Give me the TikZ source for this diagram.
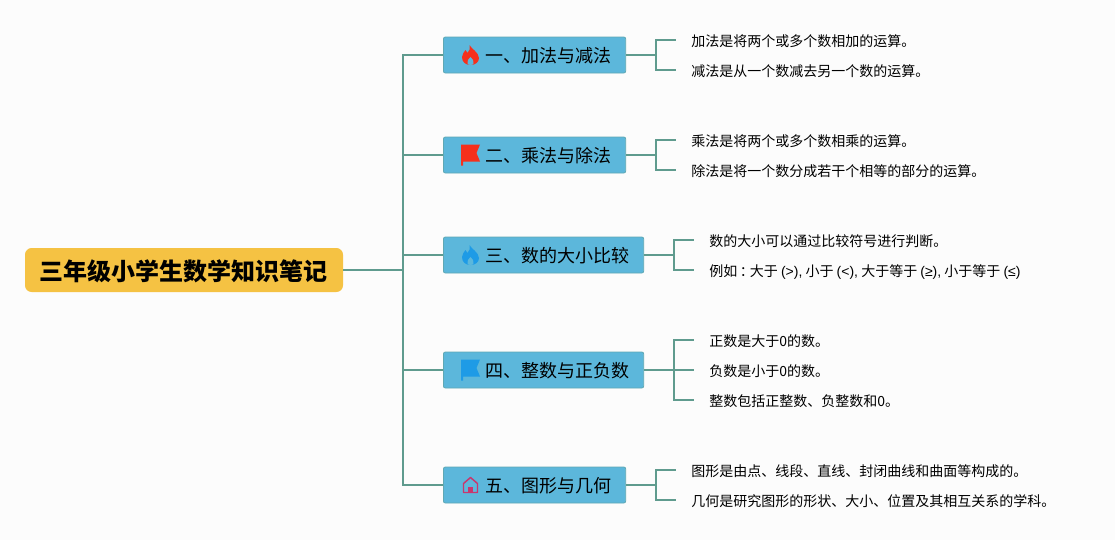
\documentclass[tikz,border=0pt]{standalone}
\usepackage{fontspec}
\setmainfont{Noto Sans CJK SC}
\newfontfamily\symfont{Liberation Sans}
\newcommand{\lat}[1]{{\symfont #1}}
\definecolor{linkcol}{HTML}{5F9B8E}
\definecolor{rootcol}{HTML}{F5C243}
\definecolor{branchcol}{HTML}{5CB7DB}
\definecolor{branchedge}{HTML}{5FA8B4}
\definecolor{paper}{HTML}{FCFCFC}
\definecolor{redicon}{HTML}{F5301C}
\definecolor{blueicon}{HTML}{1E9BE6}
\definecolor{houseicon}{HTML}{C8376E}
\tikzset{
  link/.style={draw=linkcol,line width=1.5pt},
  rootbox/.style={fill=rootcol,rounded corners=5pt,inner xsep=11.25pt,inner ysep=0pt,minimum height=33pt,text height=15.4pt,text depth=0pt,font=\fontsize{18}{20}\selectfont\bfseries},
  branchbox/.style={fill=branchcol,draw=branchedge,line width=0.6pt,rounded corners=1.5pt,anchor=west,inner xsep=11pt,inner ysep=0pt,minimum height=27pt,text height=11.7pt,text depth=0pt,font=\fontsize{13.5}{16}\selectfont},
  leafbox/.style={anchor=west,inner xsep=11.25pt,inner ysep=0pt,font=\fontsize{10.5}{12}\selectfont,text height=10pt,text depth=0pt},
}
% icons, centred on the given point
\newcommand{\flameicon}[3]{
  \begin{scope}[shift={(#1,#2)}]
    \fill[#3] (-1,-10) .. controls (1,-6) and (8,-3) .. (8.5,3) .. controls (8.5,7) and (5,10) .. (0,10) .. controls (-5,10) and (-8.5,7) .. (-8.5,2) .. controls (-8.5,-1) and (-6,-3) .. (-5,-5) -- (-3,-2) .. controls (-1,-4) and (0,-7) .. (-1,-10) -- cycle;
    \fill[branchcol] (0,2) .. controls (2,4) and (4,6) .. (3,9) .. controls (2,10.2) and (-2,10.2) .. (-3,9) .. controls (-4,6) and (-2,4) .. (0,2) -- cycle;
  \end{scope}
}
\newcommand{\flagicon}[3]{
  \begin{scope}[shift={(#1,#2)}]
    \fill[#3] (-9.5,-10.5) -- (9.5,-10.5) -- (6,-2) -- (9.5,6.5) -- (-7.5,6.5) -- (-7.5,10.5) -- (-9.5,10.5) -- cycle;
  \end{scope}
}
\newcommand{\houseicon}[3]{
  \begin{scope}[shift={(#1,#2)}]
    \draw[#3,line width=1.1pt,line join=round] (-7,7.5) -- (-7,-1.5) -- (0,-7.5) -- (7,-1.5) -- (7,7.5) -- cycle;
    \fill[#3] (-2.5,7.5) -- (-2.5,2) -- (2.5,2) -- (2.5,7.5) -- cycle;
  \end{scope}
}
\begin{document}
\begin{tikzpicture}[x=0.75pt,y=-0.75pt]
  \useasboundingbox (0,0) rectangle (1115,540);
  \fill[paper] (0,0) rectangle (1115,540);
  \coordinate (trunk) at (403,270);
  \node[rootbox] (root) at (184,270) {三年级小学生数学知识笔记};
  \foreach \bname/\y/\txt in {add/55/一、加法与减法,mul/155/二、乘法与除法,cmp/255/三、数的大小比较,int/370/四、整数与正负数,geo/485/五、图形与几何}
  {
    \node[branchbox] (\bname) at (443,\y) {\hspace{20.25pt}\txt};
    \draw[link] (root.east) -- (trunk) |- (\bname.west);
  }
  \flameicon{470.5}{55}{redicon}
  \flagicon{470.5}{155}{redicon}
  \flameicon{470.5}{255}{blueicon}
  \flagicon{470.5}{370}{blueicon}
  \houseicon{470.5}{485}{houseicon}
  \foreach \bname/\lname/\lx/\y/\txt in {
    add/a1/676/40/加法是将两个或多个数相加的运算。,
    add/a2/676/70/减法是从一个数减去另一个数的运算。,
    mul/m1/676/140/乘法是将两个或多个数相乘的运算。,
    mul/m2/676/170/除法是将一个数分成若干个相等的部分的运算。,
    cmp/c1/694/240/数的大小可以通过比较符号进行判断。,
    cmp/c2/694/270/{例如\hspace{2pt}：\hspace{-3pt}大于 \lat{(>),} 小于 \lat{(<),} 大于等于 \lat{(≥),} 小于等于 \lat{(≤)}},
    int/i1/694/340/正数是大于0的数。,
    int/i2/694/370/负数是小于0的数。,
    int/i3/694/400/整数包括正整数、负整数和0。,
    geo/g1/676/470/图形是由点、线段、直线、封闭曲线和曲面等构成的。,
    geo/g2/676/500/几何是研究图形的形状、大小、位置及其相互关系的学科。}
  {
    \node[leafbox] (\lname) at (\lx,\y) {\txt};
    \draw[link] (\bname.east) -- ++(30,0) |- (\lname.west);
  }
\end{tikzpicture}
\end{document}
